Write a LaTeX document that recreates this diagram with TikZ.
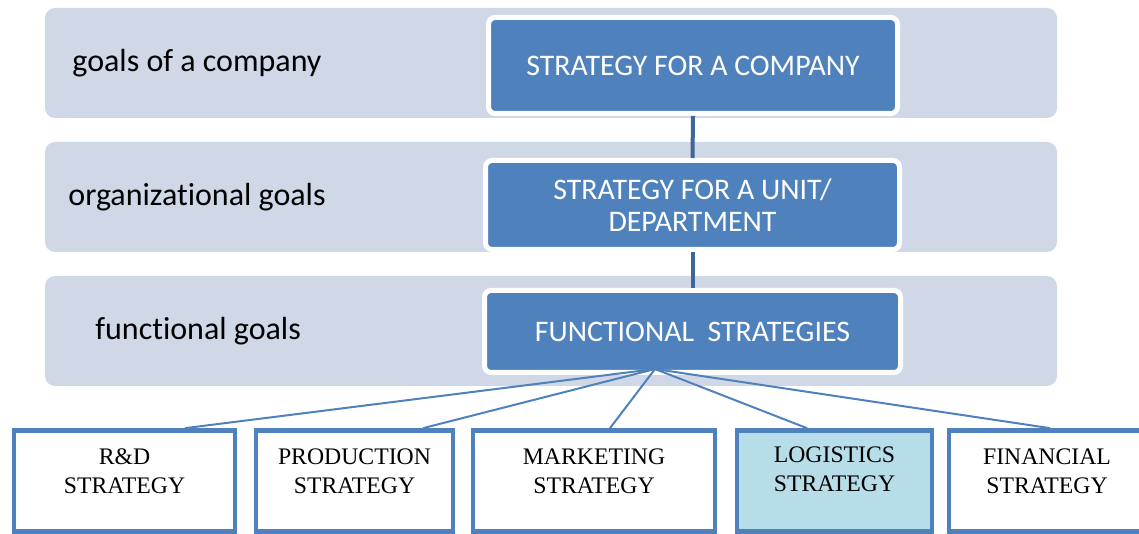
\documentclass[tikz,border=0pt]{standalone}
\usepackage{fontspec}
\setmainfont[Ligatures=NoCommon]{Carlito}
\newfontfamily\timesfont{Liberation Serif}
\usetikzlibrary{positioning}
\usetikzlibrary{calc}

\definecolor{bandgrey}{HTML}{D0D8E8}
\definecolor{boxblue}{HTML}{4F81BD}
\definecolor{linkblue}{HTML}{3D6798}
\definecolor{logblue}{HTML}{B7DDE8}

\begin{document}
\begin{tikzpicture}[x=0.75pt,y=-0.75pt,semithick]
	\tikzstyle{band}=[fill=bandgrey,rounded corners=7.5pt,minimum width=759pt,minimum height=82.5pt,inner sep=0pt]
	\tikzstyle{level}=[fill=boxblue,draw=white,line width=3.75pt,rounded corners=5pt,text=white,align=center,font=\fontsize{22.4}{24}\selectfont]
	\tikzstyle{goal}=[anchor=west,inner sep=0pt,font=\fontsize{24}{28}\selectfont]
	\tikzstyle{func}=[draw=boxblue,line width=3.5pt,minimum height=75.75pt,inner sep=0pt]
	\tikzstyle{functext}=[align=center,font=\timesfont\fontsize{17.8}{21.75}\selectfont,yshift=7.5pt]

	\useasboundingbox (0,0) rectangle (1139,534);

	% levels
	\node[band] (L_1) at (551,63)  {};
	\node[band] (L_2) at (551,197) {};
	\node[band] (L_3) at (551,331) {};

	\node[goal] (G_1) at (72,63)  {goals of a company};
	\node[goal] (G_2) at (68,197) {organizational goals};
	\node[goal] (G_3) at (95,331) {functional goals};

	\node[level,minimum width=306.75pt,minimum height=72pt]    (B_1) at (693,65.5)    {STRATEGY FOR A COMPANY};
	\node[level,minimum width=310.5pt,minimum height=66.75pt]  (B_2) at (692.5,205)   {STRATEGY FOR A UNIT/\\DEPARTMENT};
	\node[level,minimum width=312pt,minimum height=61.5pt]     (B_3) at (692.5,331.5) {FUNCTIONAL~~STRATEGIES};

	\path[draw=linkblue,line width=3pt] (B_1.south) edge (B_2.north)
		(B_2.south) edge (B_3.north);

	% functional strategies
	\node[func,fill=white,minimum width=165.75pt,label={[functext]center:R\&D\\STRATEGY}]          (RD)  at (124.5,481) {};
	\node[func,fill=white,minimum width=147.75pt,label={[functext]center:PRODUCTION\\STRATEGY}]    (PRD) at (354.5,481) {};
	\node[func,fill=white,minimum width=181.5pt,label={[functext]center:MARKETING\\STRATEGY}]      (MKT) at (594,481)   {};
	\node[func,fill=logblue,minimum width=146.25pt,label={[functext,yshift=1.5pt]center:LOGISTICS\\STRATEGY}] (LOG) at (834.5,481) {};
	\node[func,fill=white,minimum width=147pt,label={[functext]center:FINANCIAL\\STRATEGY}]       (FIN) at (1047,481)  {};

	\coordinate (fan) at (655,369);
	\path[draw=boxblue,line width=1.5pt] (fan) edge ($(RD.north)+(60.5,0)$)
		(fan) edge ($(PRD.north)+(68.5,0)$)
		(fan) edge ($(MKT.north)+(16,0)$)
		(fan) edge ($(LOG.north)+(-27.5,0)$)
		(fan) edge ($(FIN.north)+(3,0)$);
\end{tikzpicture}
\end{document}
